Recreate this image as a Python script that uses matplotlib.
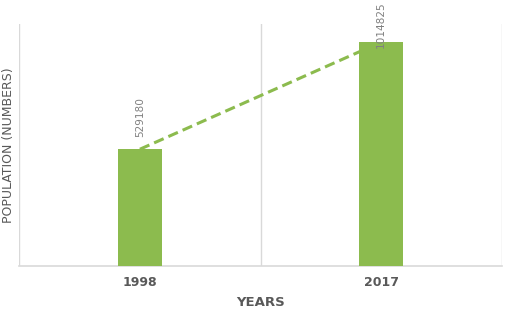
import matplotlib
matplotlib.use("Agg")
import matplotlib.pyplot as plt

# Datos del gráfico
years = ["1998", "2017"]
population = [529180, 1014825]
label_offsets = [9, -4]  # desplazamiento de las etiquetas (puntos)

green = "#8cbb4e"
grid_gray = "#d9d9d9"
text_gray = "#595959"

fig = plt.figure(figsize=(5.05, 3.13), dpi=100)
ax = fig.add_axes([0.038, 0.150, 0.956, 0.773])

x = list(range(len(years)))

# Línea discontinua entre los valores, detrás de las barras
ax.plot(x, population, linestyle="--", color=green, linewidth=2.2, dashes=(3.4, 1.7), zorder=2)
ax.bar(x, population, width=0.183, color=green, zorder=3)

for xi, val, off in zip(x, population, label_offsets):
    ax.annotate(str(val), (xi, val), xytext=(0, off), textcoords="offset points",
                rotation=90, ha="center", va="bottom", fontsize=7.6,
                color="#808080", zorder=4, annotation_clip=False)

ax.set_xlim(-0.5, 1.5)
ax.set_ylim(0, 1096000)

# Líneas de división verticales entre categorías
for g in [-0.5, 0.5, 1.5]:
    ax.axvline(g, color=grid_gray, linewidth=1, zorder=1)

for s in ["top", "right", "left"]:
    ax.spines[s].set_visible(False)
ax.spines["bottom"].set_color(grid_gray)
ax.spines["bottom"].set_linewidth(1.2)

ax.set_yticks([])
ax.set_xticks(x)
ax.set_xticklabels(years, fontsize=9, fontweight="bold", color=text_gray)
ax.tick_params(axis="x", length=0, pad=7)

ax.set_xlabel("YEARS", fontsize=9.5, fontweight="bold", color=text_gray, labelpad=5)
ax.set_ylabel("POPULATION (NUMBERS)", fontsize=9, color=text_gray, labelpad=3)

fig.savefig("out.png", dpi=100)
